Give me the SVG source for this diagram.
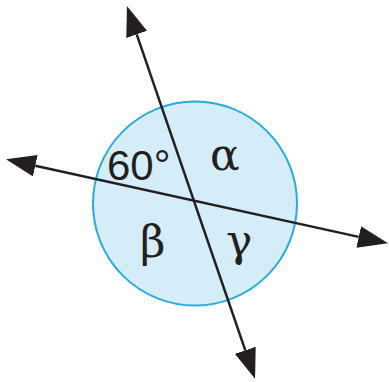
<svg xmlns="http://www.w3.org/2000/svg" width="389" height="382" viewBox="0 0 389 382">
<style>
.line{stroke:#231f20;stroke-width:2.5;fill:none}
.num{font-family:"Liberation Sans",Arial,sans-serif;font-size:42px;fill:#231f20}
.greek{font-family:"DejaVu Serif",serif;font-size:44px;fill:#231f20}
</style>
<defs>
<marker id="arrow" viewBox="0 0 30 22" refX="0" refY="11" markerWidth="30" markerHeight="22" markerUnits="userSpaceOnUse" orient="auto-start-reverse">
<path d="M0,0 L30,11 L0,22 Z" fill="#231f20"/>
</marker>
</defs>
<rect width="389" height="382" fill="#ffffff"/>
<g id="circle">
<circle cx="195" cy="203.5" r="102" fill="#d5ecf9" stroke="#29abe2" stroke-width="2"/>
</g>
<g id="connectors">
<line class="line" x1="136.7" y1="34.4" x2="245.3" y2="350.3" marker-start="url(#arrow)" marker-end="url(#arrow)"/>
<line class="line" x1="35.3" y1="165.7" x2="358.7" y2="236.9" marker-start="url(#arrow)" marker-end="url(#arrow)"/>
</g>
<g id="label-60"><text class="num" x="107" y="180">60°</text></g>
<g id="label-alpha"><text class="greek" x="210" y="170">α</text></g>
<g id="label-beta"><text class="greek" x="140" y="257" font-size="48">β</text></g>
<g id="label-gamma"><text class="greek" x="226" y="256" font-size="46">γ</text></g>
</svg>
